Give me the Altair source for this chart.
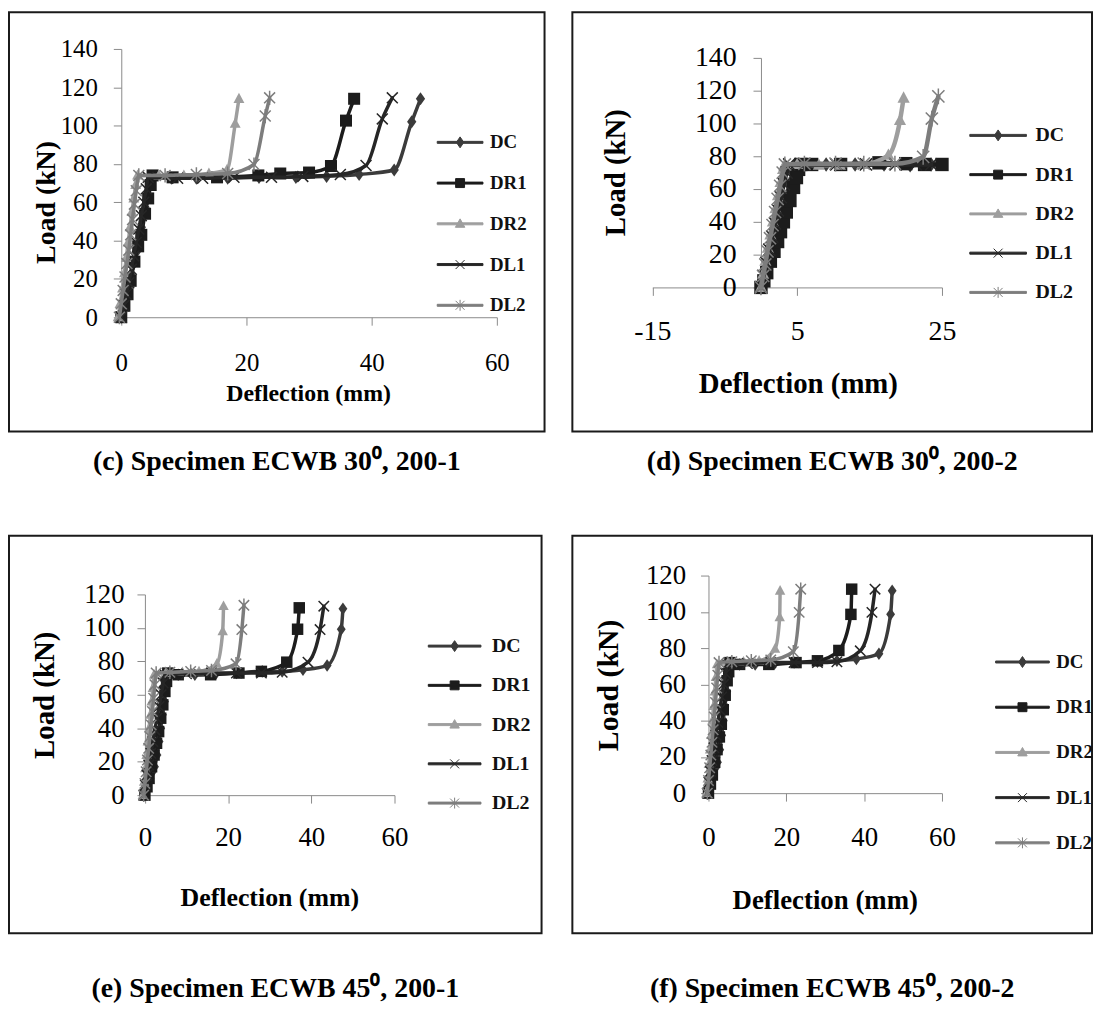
import altair as alt
import pandas as pd

SERIES = ["DC", "DR1", "DR2", "DL1", "DL2"]
COLORS = ["#3b3b3b", "#1c1c1c", "#9e9e9e", "#262626", "#7d7d7d"]
FONT = "Liberation Serif"

X_TITLE = "Deflection (mm)"
Y_TITLE = "Load (kN)"
CAPTIONS = [
    "(c) Specimen ECWB 30\u2070, 200-1",
    "(d) Specimen ECWB 30\u2070, 200-2",
    "(e) Specimen ECWB 45\u2070, 200-1",
    "(f) Specimen ECWB 45\u2070, 200-2",
]

X_TICKS_60 = [0, 20, 40, 60]
X_TICKS_D = [-15, 5, 25]
Y_TICKS_140 = [0, 20, 40, 60, 80, 100, 120, 140]
Y_TICKS_120 = [0, 20, 40, 60, 80, 100, 120]

# ---------------- panel (c) ----------------
c_DC_x = [0, 0.4, 0.8, 1.2, 1.6, 2.0, 2.4, 2.8, 3.2, 3.6, 4.0, 4.4, 4.7, 8, 12, 17, 22, 27.9, 32.8, 38, 43.6, 46.4, 47.8]
c_DC_y = [0, 5, 10, 16, 22, 28, 34, 40, 47, 54, 61, 68, 73, 72.5, 72.5, 72.5, 73, 73, 73.5, 74.5, 76.8, 102, 114]
c_DR1_x = [0, 0.5, 1.0, 1.5, 2.1, 2.7, 3.2, 3.8, 4.3, 4.7, 5.0, 8.2, 15.3, 21.9, 25.4, 30, 33.5, 35.9, 37.2]
c_DR1_y = [0, 6, 12, 19, 29, 37, 43, 54, 62, 69, 74, 73, 73, 74, 75, 75.5, 78.9, 102.6, 114]
c_DR2_x = [-0.5, -0.2, 0.2, 0.5, 0.8, 1.1, 1.4, 1.7, 2.0, 2.3, 2.6, 6, 10, 14, 16.9, 18.2, 18.8]
c_DR2_y = [0, 7, 15, 23, 31, 39, 47, 55, 62, 69, 74, 74, 74, 75, 77, 101, 114]
c_DL1_x = [0, 0.4, 0.8, 1.2, 1.6, 2.0, 2.4, 2.8, 3.2, 3.6, 4.0, 4.3, 9, 13, 18, 24, 29, 35, 39.1, 41.7, 43.3]
c_DL1_y = [0, 6, 12, 18, 25, 32, 39, 46, 53, 60, 67, 73, 72.5, 72.5, 73, 73, 73.5, 74.5, 79.2, 103.5, 114.5]
c_DL2_x = [-0.3, 0, 0.3, 0.6, 0.9, 1.2, 1.5, 1.8, 2.1, 2.4, 2.8, 7, 12, 17, 21.2, 23, 23.7]
c_DL2_y = [0, 7, 14, 21, 28, 35, 43, 51, 59, 66, 74, 74, 74.5, 75, 79.7, 105, 114.5]

# ---------------- panel (d) ----------------
d_DC_x = [0, 0.4, 0.85, 1.3, 1.75, 2.2, 2.65, 3.1, 3.55, 4.0, 4.45, 4.8, 6, 9, 13, 17, 20.6, 23.5]
d_DC_y = [0, 7, 14, 21, 28, 35, 42, 49, 56, 63, 70, 75, 75, 75, 75, 75, 74.5, 75]
d_DR1_x = [0, 0.4, 0.8, 1.3, 1.8, 2.3, 2.7, 3.1, 3.5, 4.0, 4.5, 4.9, 5.2, 5.5, 7, 11, 16.3, 20, 22.6, 25]
d_DR1_y = [0, 4, 9, 16, 22, 28, 34, 40, 46, 53, 61, 67, 72, 75, 75, 75, 76, 75.5, 75, 75]
d_DR2_x = [0, 0.3, 0.6, 0.95, 1.3, 1.65, 2.0, 2.35, 2.7, 3.05, 3.3, 5, 8, 10.9, 14, 17.6, 19.2, 19.7]
d_DR2_y = [0, 8, 16, 24, 32, 40, 48, 56, 64, 72, 75, 75, 74.5, 74.5, 75, 80.6, 101.8, 115.5]
d_DL1_x = [0, 0.35, 0.75, 1.15, 1.55, 1.95, 2.35, 2.75, 3.15, 3.55, 3.9, 6, 10.4, 14.5, 18.6, 21.4, 23.5]
d_DL1_y = [0, 7, 15, 23, 31, 39, 47, 55, 63, 70, 75, 75, 75, 75, 75, 75, 75]
d_DL2_x = [0, 0.3, 0.6, 0.9, 1.25, 1.6, 1.95, 2.3, 2.65, 3.0, 3.3, 6, 10.3, 14.2, 18.5, 22.4, 23.6, 24.5]
d_DL2_y = [0, 7, 14, 22, 30, 38, 46, 54, 62, 70, 75, 75.5, 75.5, 75.5, 75.5, 79.6, 103, 116.5]

# ---------------- panel (e) ----------------
e_DC_x = [0, 0.6, 1.2, 1.8, 2.3, 2.9, 3.4, 3.8, 4.2, 4.7, 5.1, 5.5, 5.8, 8, 12, 17, 22, 28.2, 33, 38, 43.8, 47.2, 47.6]
e_DC_y = [0, 5, 10, 14, 17, 24, 32, 40, 48, 56, 64, 70, 73, 72, 72, 72.5, 73, 74, 74, 75, 77.5, 99.2, 111.5]
e_DR1_x = [0, 0.5, 1, 1.6, 2.2, 2.8, 3.3, 3.8, 4.3, 4.8, 5.2, 5.5, 8, 15.8, 22.6, 28, 34.1, 36.7, 37.1]
e_DR1_y = [0, 5, 10, 17, 24, 31, 38, 46, 54, 62, 68, 73, 72, 72, 73, 74, 79.5, 99.2, 112]
e_DR2_x = [-0.5, -0.2, 0.1, 0.4, 0.7, 1.0, 1.3, 1.6, 1.9, 2.2, 5, 9, 13, 17.3, 18.7, 18.9]
e_DR2_y = [0, 8, 16, 24, 32, 40, 48, 56, 64, 72, 73, 73.5, 74, 78.5, 98, 113]
e_DL1_x = [-0.3, 0.1, 0.5, 0.9, 1.4, 1.9, 2.4, 2.9, 3.4, 3.9, 4.4, 4.8, 10, 16, 22, 28, 33, 39.2, 42.1, 43]
e_DL1_y = [0, 6, 12, 18, 25, 32, 39, 46, 53, 60, 67, 72, 72.5, 73, 73, 73, 73.5, 79.5, 99, 113]
e_DL2_x = [-0.3, 0, 0.3, 0.6, 0.9, 1.2, 1.5, 1.8, 2.1, 2.4, 2.7, 6, 11, 16, 21.9, 23.3, 23.8]
e_DL2_y = [0, 7, 14, 21, 28, 35, 42, 50, 58, 66, 73, 73.5, 74, 74.5, 78.5, 99, 113.5]

# ---------------- panel (f) ----------------
f_DC_x = [0, 0.6, 1.2, 1.8, 2.3, 2.9, 3.4, 3.8, 4.2, 4.7, 5.1, 5.5, 5.8, 8, 12, 17, 22, 28, 33, 38, 43.8, 46.8, 47.2]
f_DC_y = [0, 5, 10, 14, 17, 24, 32, 40, 48, 56, 64, 69, 72, 71, 71, 71.5, 72, 72.5, 73, 74, 76.9, 98.6, 111.6]
f_DR1_x = [0, 0.5, 1, 1.6, 2.2, 2.8, 3.3, 3.8, 4.3, 4.8, 5.2, 5.5, 8, 15.5, 22.5, 28, 33.5, 36.6, 36.8]
f_DR1_y = [0, 5, 10, 17, 24, 31, 38, 46, 54, 62, 67, 72, 71, 71, 72, 73, 78.7, 98.6, 112.5]
f_DR2_x = [-0.5, -0.2, 0.1, 0.4, 0.7, 1.0, 1.3, 1.6, 1.9, 2.2, 5, 9, 13, 17.1, 18.3, 18.4]
f_DR2_y = [0, 8, 16, 24, 32, 40, 48, 56, 64, 71, 72, 72.5, 73, 79.6, 97, 111.6]
f_DL1_x = [-0.3, 0.1, 0.5, 0.9, 1.4, 1.9, 2.4, 2.9, 3.4, 3.9, 4.4, 4.8, 10, 16, 22, 28, 33, 39, 42, 42.8]
f_DL1_y = [0, 6, 12, 18, 25, 32, 39, 46, 53, 60, 66, 71, 71.5, 72, 72, 72, 72.5, 78.5, 99.7, 112.5]
f_DL2_x = [-0.3, 0, 0.3, 0.6, 0.9, 1.2, 1.5, 1.8, 2.1, 2.4, 2.7, 6, 11, 16, 21.8, 23.3, 23.7]
f_DL2_y = [0, 7, 14, 21, 28, 35, 42, 50, 58, 65, 72, 72.5, 73, 73.5, 78, 99.7, 112.5]

PANEL_DATA = [
    {"DC": (c_DC_x, c_DC_y), "DR1": (c_DR1_x, c_DR1_y), "DR2": (c_DR2_x, c_DR2_y), "DL1": (c_DL1_x, c_DL1_y), "DL2": (c_DL2_x, c_DL2_y)},
    {"DC": (d_DC_x, d_DC_y), "DR1": (d_DR1_x, d_DR1_y), "DR2": (d_DR2_x, d_DR2_y), "DL1": (d_DL1_x, d_DL1_y), "DL2": (d_DL2_x, d_DL2_y)},
    {"DC": (e_DC_x, e_DC_y), "DR1": (e_DR1_x, e_DR1_y), "DR2": (e_DR2_x, e_DR2_y), "DL1": (e_DL1_x, e_DL1_y), "DL2": (e_DL2_x, e_DL2_y)},
    {"DC": (f_DC_x, f_DC_y), "DR1": (f_DR1_x, f_DR1_y), "DR2": (f_DR2_x, f_DR2_y), "DL1": (f_DL1_x, f_DL1_y), "DL2": (f_DL2_x, f_DL2_y)},
]

# marker glyphs (plot)
PLOT_MARKERS = [
    "M0,-1.2L0.85,0L0,1.2L-0.85,0Z",
    "M-1.1,-1.1L1.1,-1.1L1.1,1.1L-1.1,1.1Z",
    "M0,-1.1L1,0.75L-1,0.75Z",
    "M-1,-1L1,1M-1,1L1,-1",
    "M-1,-1L1,1M-1,1L1,-1M0,-1.3L0,1.3",
]
FILLED = [True, True, True, False, False]
# marker glyphs (legend, unit = 5 px)
LEG_MARKERS = [
    "M0,-1.1L0.75,0L0,1.1L-0.75,0Z",
    "M-0.9,-0.9L0.9,-0.9L0.9,0.9L-0.9,0.9Z",
    "M0,-1L0.95,0.7L-0.95,0.7Z",
    "M-0.9,-0.9L0.9,0.9M-0.9,0.9L0.9,-0.9",
    "M-0.9,-0.9L0.9,0.9M-0.9,0.9L0.9,-0.9M0,-1.1L0,1.1",
]


def leg_shapes(half_len):
    a = half_len / 5.0
    t = 0.2
    rect = f"M{-a:.2f},{-t}L{a:.2f},{-t}L{a:.2f},{t}L{-a:.2f},{t}Z"
    return [rect + m for m in LEG_MARKERS]


GEOS = [
    dict(W=539, H=422, xdom=[0, 60], xticks=X_TICKS_60, xr=[113, 491], ydom=[0, 140], yticks=Y_TICKS_140, yr=[307, 37],
         tfs=25, xtfs=24, ytfs=28, xt=(301, 384), yt=(38, 191), xpad=38, ypad=16,
         leg=(454, 131, 40, 23, 30, 19), ms=121, lw=3.5, capoff=31),
    dict(W=523, H=422, xdom=[-15, 25], xticks=X_TICKS_D, xr=[80.5, 372], ydom=[0, 140], yticks=Y_TICKS_140, yr=[277, 46],
         tfs=28, xtfs=29, ytfs=29, xt=(227, 374), yt=(43, 161), xpad=36, ypad=17,
         leg=(428.5, 124, 39.5, 28.5, 37.5, 20), ms=150, lw=4.5, capoff=31),
    dict(W=536, H=400, xdom=[0, 60], xticks=X_TICKS_60, xr=[136.8, 388], ydom=[0, 120], yticks=Y_TICKS_120, yr=[261, 59],
         tfs=27, xtfs=26, ytfs=29, xt=(262, 364), yt=(36, 160), xpad=35, ypad=13,
         leg=(448.5, 111, 39.5, 26.5, 37.5, 20), ms=110, lw=3.5, capoff=56),
    dict(W=523, H=400, xdom=[0, 60], xticks=X_TICKS_60, xr=[137, 372], ydom=[0, 120], yticks=Y_TICKS_120, yr=[259, 40],
         tfs=27, xtfs=27, ytfs=30, xt=(254, 367), yt=(36, 150), xpad=37, ypad=15,
         leg=(453, 127, 44.5, 27, 34, 19), ms=110, lw=3.5, capoff=56),
]

AXIS_GRAY = "#8a8a8a"


def make_panel(data, g, caption):
    xd0, xd1 = g["xdom"]
    xr0, xr1 = g["xr"]
    yaxis_x = xr0 + (0 - xd0) / (xd1 - xd0) * (xr1 - xr0)
    xaxis_y = g["yr"][0]

    x_axis = alt.Axis(
        values=g["xticks"], offset=-(g["H"] - xaxis_y), tickSize=8, tickColor=AXIS_GRAY, domainColor=AXIS_GRAY,
        grid=False, labelFont=FONT, labelFontSize=g["tfs"], labelColor="black", labelPadding=g["xpad"],
        labelBaseline="middle", labelFlush=False, labelOverlap=False, labelExpr="'' + datum.value",
        title=X_TITLE, titleFont=FONT, titleFontWeight="bold", titleFontSize=g["xtfs"], titleColor="black",
        titleX=g["xt"][0], titleY=g["xt"][1] - xaxis_y, titleAlign="center", titleBaseline="middle",
    )
    y_axis = alt.Axis(
        values=g["yticks"], offset=-yaxis_x, tickSize=8, tickColor=AXIS_GRAY, domainColor=AXIS_GRAY,
        grid=False, labelFont=FONT, labelFontSize=g["tfs"], labelColor="black", labelPadding=g["ypad"],
        labelFlush=False, labelOverlap=False,
        title=Y_TITLE, titleFont=FONT, titleFontWeight="bold", titleFontSize=g["ytfs"], titleColor="black",
        titleX=g["yt"][0] - yaxis_x, titleY=g["yt"][1], titleAlign="center", titleBaseline="middle", titleAngle=270,
    )
    xs = alt.Scale(domain=g["xdom"], range=g["xr"], nice=False, zero=False)
    ys = alt.Scale(domain=g["ydom"], range=g["yr"], nice=False, zero=False)
    X = alt.X("x:Q", scale=xs, axis=x_axis)
    Y = alt.Y("y:Q", scale=ys, axis=y_axis)

    layers = []
    frames = []
    for k, name in enumerate(SERIES):
        xv, yv = data[name]
        df = pd.DataFrame({"x": xv, "y": yv, "i": list(range(len(xv))), "series": name})
        frames.append(df)
        base = alt.Chart(df)
        layers.append(
            base.mark_line(color=COLORS[k], strokeWidth=g["lw"], interpolate="monotone",
                           strokeJoin="round", strokeCap="round").encode(x=X, y=Y, order=alt.Order("i:Q"))
        )
        if FILLED[k]:
            pts = base.mark_point(shape=PLOT_MARKERS[k], size=g["ms"], filled=True, color=COLORS[k],
                                  opacity=1, strokeWidth=0)
        else:
            pts = base.mark_point(shape=PLOT_MARKERS[k], size=g["ms"], filled=False, color=COLORS[k],
                                  opacity=1, strokeWidth=1.5)
        layers.append(pts.encode(x=X, y=Y))

    cx, fy, pitch, L, gap, fs = g["leg"]
    legend = alt.Legend(
        orient="none", legendX=cx - L, legendY=fy - fs / 2, title=None, direction="vertical", padding=0,
        labelFont=FONT, labelFontWeight="bold", labelFontSize=fs, labelColor="#111111",
        symbolSize=100, symbolStrokeWidth=1, symbolOpacity=1,
        symbolOffset=L - fs / 2, labelOffset=gap - fs / 2, rowPadding=pitch - fs,
    )
    all_df = pd.concat(frames, ignore_index=True)
    leg_layer = alt.Chart(all_df).mark_point(opacity=0, filled=False, size=100, strokeWidth=1).encode(
        x=X, y=Y,
        color=alt.Color("series:N", scale=alt.Scale(domain=SERIES, range=COLORS), legend=legend),
        fill=alt.Fill("series:N", scale=alt.Scale(domain=SERIES, range=COLORS), legend=legend),
        shape=alt.Shape("series:N", scale=alt.Scale(domain=SERIES, range=leg_shapes(L)), legend=legend),
    )
    layers.append(leg_layer)

    return alt.layer(*layers).properties(
        width=g["W"], height=g["H"],
        title=alt.TitleParams(caption, orient="bottom", anchor="middle", font=FONT, fontWeight="bold",
                              fontSize=28, color="black", offset=g["capoff"], baseline="middle"),
    )


panels = [make_panel(PANEL_DATA[i], GEOS[i], CAPTIONS[i]) for i in range(4)]
chart = (
    alt.concat(*panels, columns=2, spacing={"row": 105, "column": 28}, bounds="flush")
    .resolve_scale(color="independent", fill="independent", shape="independent")
    .resolve_legend(color="independent", fill="independent", shape="independent")
    .properties(padding=0, background="white")
    .configure(font=FONT)
    .configure_view(stroke="#1a1a1a", strokeWidth=2, fill="white")
)

chart.save("out.html", embed_options={"renderer": "svg", "actions": False})
